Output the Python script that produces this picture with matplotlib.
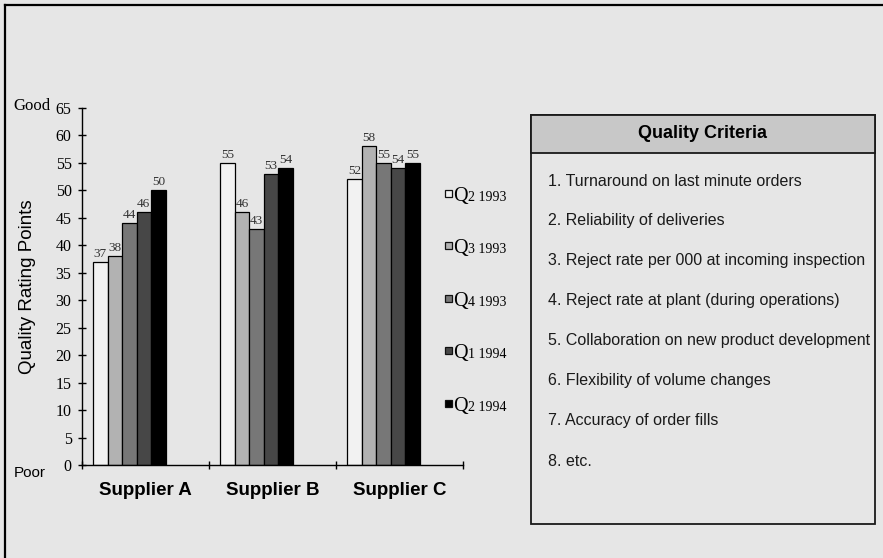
import numpy as np
import matplotlib.pyplot as plt
from matplotlib.patches import Rectangle

#chart data
suppliers = ['Supplier A', 'Supplier B', 'Supplier C']
quarters = ['Q2 1993', 'Q3 1993', 'Q4 1993', 'Q1 1994', 'Q2 1994']
scores = [
    [37, 55, 52],   # Q2 1993
    [38, 46, 58],   # Q3 1993
    [44, 43, 55],   # Q4 1993
    [46, 53, 54],   # Q1 1994
    [50, 54, 55],   # Q2 1994
]
colors = ['#f2f2f2', '#b2b2b2', '#777777', '#474747', '#000000']
criteria = [
    '1. Turnaround on last minute orders',
    '2. Reliability of deliveries',
    '3. Reject rate per 000 at incoming inspection',
    '4. Reject rate at plant (during operations)',
    '5. Collaboration on new product development',
    '6. Flexibility of volume changes',
    '7. Accuracy of order fills',
    '8. etc.',
]

W, H = 883, 558
bg = '#e6e6e6'
serif = 'Liberation Serif'
sans = 'Liberation Sans'

#helpers to go from pixel positions to figure fractions
def fx(x):
    return x / W

def fy(y):
    return 1 - y / H

fig = plt.figure(figsize=(W / 100, H / 100), dpi=100, facecolor=bg)

#outer frame (only top and left show in the picture)
fig.add_artist(plt.Line2D([fx(4.5), fx(4.5)], [0, fy(4.5)], color='black', lw=1.6))
fig.add_artist(plt.Line2D([fx(4.5), 1], [fy(4.5), fy(4.5)], color='black', lw=1.6))

ax = fig.add_axes([fx(82), fy(465), (463 - 82) / W, 357 / H])
ax.set_facecolor(bg)

#bars
barWidth = 0.114
groupStart = 0.088
x = np.arange(len(suppliers))
for j, (q, vals) in enumerate(zip(quarters, scores)):
    pos = x + groupStart + (j + 0.5) * barWidth
    ax.bar(pos, vals, width=barWidth, color=colors[j], edgecolor='black', linewidth=0.9, label=q)
    for p, v in zip(pos, vals):
        ax.text(p, v + 0.4, str(v), ha='center', va='bottom', fontsize=9.5,
                family=serif, color='#333333')

ax.set_xlim(0, 3)
ax.set_ylim(0, 65)
ax.set_yticks(range(0, 66, 5))
ax.set_xticks([0, 1, 2, 3])
ax.set_xticklabels([])
ax.set_xticks(x + 0.5, minor=True)
ax.set_xticklabels(suppliers, minor=True, fontsize=13.5, fontweight='bold', family=sans)
ax.tick_params(axis='x', which='minor', length=0, pad=12)
ax.tick_params(axis='both', which='major', direction='inout', length=6, width=1)
ax.tick_params(axis='y', labelsize=11.5, pad=4.5)
for t in ax.get_yticklabels():
    t.set_family(serif)
for s in ['top', 'right']:
    ax.spines[s].set_visible(False)
ax.spines['left'].set_linewidth(1)
ax.spines['bottom'].set_linewidth(1)

ax.set_ylabel('Quality Rating Points', fontsize=13.5, family=sans, va='center')
ax.yaxis.set_label_coords((28 - 82) / 381, 0.5)

fig.text(fx(13), fy(110), 'Good', fontsize=12, family=serif, ha='left', va='baseline')
fig.text(fx(14), fy(477), 'Poor', fontsize=11, family=sans, ha='left', va='baseline')

#legend drawn by hand (Q is larger than the rest)
for j, q in enumerate(quarters):
    yc = 193.5 + j * 52.4
    fig.add_artist(Rectangle((fx(445), fy(yc + 3.5)), 7 / W, 7 / H, facecolor=colors[j],
                             edgecolor='#111111', lw=0.9))
    fig.text(fx(453), fy(yc + 7.5), q[0], fontsize=14.5, family=serif, ha='left', va='baseline')
    fig.text(fx(468), fy(yc + 7.5), q[1:], fontsize=10, family=serif, ha='left', va='baseline')

#quality criteria box
fig.add_artist(Rectangle((fx(531), fy(524)), (875 - 531) / W, (524 - 115) / H,
                         facecolor=bg, edgecolor='#1a1a1a', lw=1.3))
fig.add_artist(Rectangle((fx(531), fy(153)), (875 - 531) / W, (153 - 115) / H,
                         facecolor='#c8c8c8', edgecolor='#1a1a1a', lw=1.3))
fig.text(fx(703), fy(134), 'Quality Criteria', fontsize=13, fontweight='bold', family=sans,
         ha='center', va='center')
for i, c in enumerate(criteria):
    fig.text(fx(548), fy(181 + i * 40), c, fontsize=11.5, family=sans, ha='left', va='center',
             color='#1a1a1a')

plt.savefig('out.png', dpi=100, facecolor=bg)
